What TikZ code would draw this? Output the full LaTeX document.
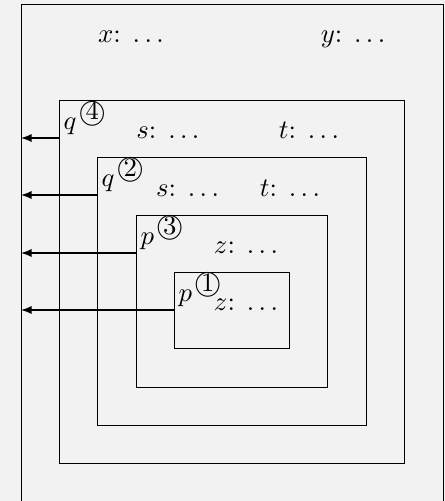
\documentclass[tikz,border=0pt]{standalone}
\begin{document}
\begin{tikzpicture}[
  box/.style={draw, inner sep=0pt, anchor=north west},
  tag/.style={anchor=north west, inner xsep=1.5pt, inner ysep=0.3pt},
  field/.style={anchor=base}]
\fill[gray!10] (0,0) rectangle (5.855,-6.592);
\useasboundingbox (0,0) rectangle (5.855,-6.592);
% outer frame, its bottom lies below the page
\node[box, minimum width=5.549cm, minimum height=6.8cm] (frame) at (0.276,-0.053) {};
\node[field] (fx) at (1.724,-0.553) {$x$: $\ldots$};
\node[field] (fy) at (4.645,-0.553) {$y$: $\ldots$};
% nested scopes
\foreach \n/\x/\y/\w/\h/\v in {4/0.776/1.316/4.54/4.776/q,
    2/1.276/2.066/3.54/3.526/q,
    3/1.789/2.829/2.514/2.263/p,
    1/2.289/3.579/1.514/1.0/p} {
  \node[box, minimum width=\w cm, minimum height=\h cm] (box\n) at (\x,-\y) {};
  \node[tag] (tag\n) at (box\n.north west) {$\v^{\mkern2mu\mbox{\textcircled{\n}}}$};
  \coordinate (exit\n) at ([yshift=-0.5cm]box\n.north west);
  \draw[-latex] (exit\n) -- (exit\n -| frame.west);
}
\node[field] (fs4) at (2.21,-1.816) {$s$: $\ldots$};
\node[field] (ft4) at (4.066,-1.816) {$t$: $\ldots$};
\node[field] (fs2) at (2.467,-2.579) {$s$: $\ldots$};
\node[field] (ft2) at (3.816,-2.579) {$t$: $\ldots$};
\node[field] (fz3) at (3.237,-3.329) {$z$: $\ldots$};
\node[field] (fz1) at (3.237,-4.079) {$z$: $\ldots$};
\end{tikzpicture}
\end{document}
